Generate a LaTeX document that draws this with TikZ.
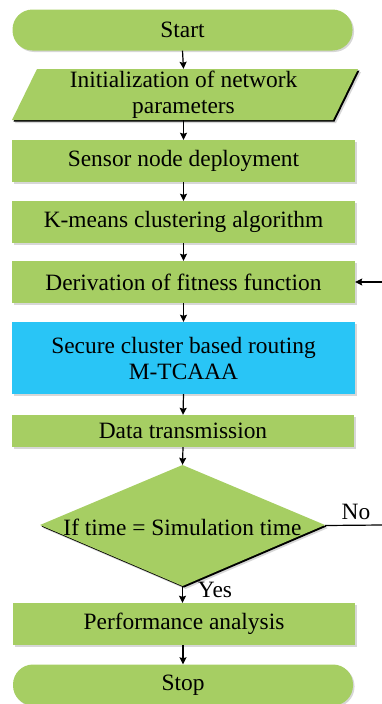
\documentclass[tikz,border=0pt]{standalone}
\usepackage{fontspec}
\setmainfont{Liberation Serif}
\usetikzlibrary{arrows.meta,shadows}
\definecolor{gr}{RGB}{166,206,99}
\definecolor{bl}{RGB}{41,197,246}
\definecolor{shd}{RGB}{215,215,215}
\begin{document}
\begin{tikzpicture}[x=1pt,y=-1pt,
  font=\rmfamily\fontsize{23.4}{26}\selectfont,
  shd/.style={drop shadow={shadow xshift=1.5pt,shadow yshift=-1.5pt,fill=shd,opacity=1}},
  box/.style={fill=gr, shd, minimum width=343pt, inner sep=0pt, align=center},
  term/.style={box, rounded corners=20pt, minimum width=340pt, minimum height=41pt},
  txt/.style={inner sep=0pt, align=center},
  arr/.style={-{Stealth[length=7pt,width=7pt,inset=1pt]}, line width=1.2pt},
  conn/.style={line width=1.2pt}]
\useasboundingbox (0,0) rectangle (382,704);

% Start
\node[term] (start) at (182.5,30) {Start};

% Parallelogram
\fill[shd] (38.5,70.5) -- (359.5,70.5) -- (334.5,121.5) -- (13.5,121.5) -- cycle;
\fill[gr] (37,69) -- (358,69) -- (333,120) -- (12,120) -- cycle;
\node[txt, minimum width=300pt, minimum height=51pt] (init) at (183.5,94.5) {Initialization of network\\parameters};

% Boxes
\node[box, minimum height=42pt] (sensor) at (183.5,161) {Sensor node deployment};
\node[box, minimum height=42pt] (kmeans) at (183.5,222) {K-means clustering algorithm};
\node[box, minimum height=42pt] (deriv) at (183.5,282) {Derivation of fitness function};
\node[box, fill=bl, minimum height=72pt] (secure) at (183.5,358) {Secure cluster based routing\\M-TCAAA};
\node[box, minimum width=342pt, minimum height=32pt] (data) at (183,431) {Data transmission};

% Diamond
\fill[shd] (41.5,526.5) -- (184,466.5) -- (326.5,526.5) -- (184,587.5) -- cycle;
\fill[gr] (40,525) -- (182.5,465) -- (325,525) -- (182.5,586) -- cycle;
\node[txt, minimum width=285pt, minimum height=121pt] (dec) at (182.5,525.5) {};
\node[txt] (dectext) at (182.5,527) {If time = Simulation time};

\node[box, minimum width=342pt, minimum height=42pt] (perf) at (184,624) {Performance analysis};
\node[term] (stop) at (183,685) {Stop};

% Connectors
\draw[arr] (start.south) -- (init.north);
\draw[arr] (init.south) -- (sensor.north);
\draw[arr] (sensor.south) -- (kmeans.north);
\draw[arr] (kmeans.south) -- (deriv.north);
\draw[arr] (deriv.south) -- (secure.north);
\draw[arr] (secure.south) -- (data.north);
\draw[arr] (data.south) -- (dec.north);
\draw[arr] (dec.south) -- (dec.south |- perf.north);
\node[txt] (yes) at (215,590) {Yes};
\draw[arr] (perf.south) -- (perf.south -| stop.north) -- (stop.north);

\coordinate (noend) at (382,525);
\draw[conn] (dec.east) -- (noend);
\node[txt] (no) at (356,512) {No};
\coordinate (fbstart) at (382,282);
\draw[arr] (fbstart) -- (deriv.east);
\end{tikzpicture}
\end{document}
